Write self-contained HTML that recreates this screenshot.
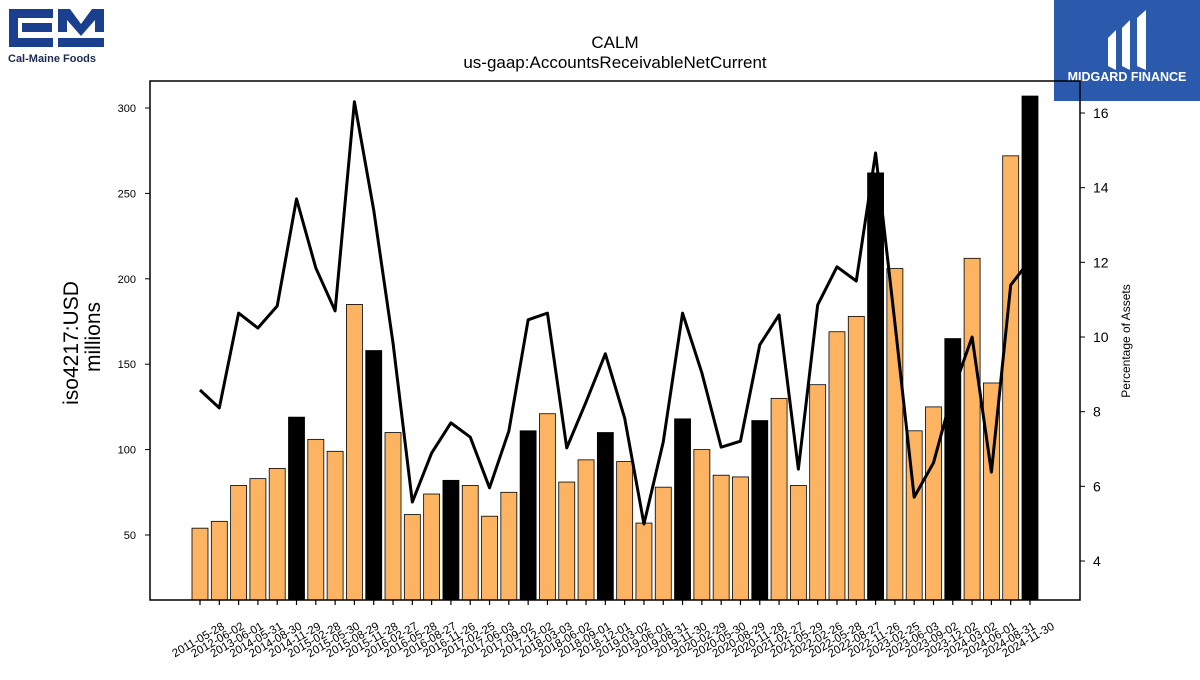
<!DOCTYPE html>
<html><head><meta charset="utf-8"><style>
body{margin:0;width:1200px;height:675px;background:#fff;overflow:hidden;font-family:"Liberation Sans","DejaVu Sans",sans-serif;}
</style></head><body>
<svg id="c" width="1200" height="675" xmlns="http://www.w3.org/2000/svg">
<g>
<rect x="9" y="9" width="44" height="9" fill="#1b3f8f"/><rect x="9" y="9" width="9" height="38" fill="#1b3f8f"/><rect x="9" y="38" width="44" height="9" fill="#1b3f8f"/>
<rect x="22" y="23" width="30" height="9" fill="#1b3f8f"/>
<path d="M58 9 H70 L81 24 L92 9 H104 V32 H95 V20 L81 36 L67 20 V32 H58 Z" fill="#1b3f8f"/>
<rect x="58" y="38" width="46" height="9" fill="#1b3f8f"/>
<text x="8" y="62" font-size="11" font-weight="bold" fill="#1b2a50">Cal-Maine Foods</text>
</g>
<g>
<rect x="1054" y="0" width="146" height="101" fill="#2b5aad"/>
<path d="M1108 38 L1116 30 V70 L1108 66 Z M1122 28 L1130 20 V70 L1122 66 Z M1137 18 L1146 10 V70 L1137 66 Z" fill="#fff"/>
<text x="1127" y="81" font-size="12.5" font-weight="bold" fill="#fff" text-anchor="middle">MIDGARD FINANCE</text>
</g>
<text x="615" y="48" font-size="17" text-anchor="middle">CALM</text>
<text x="615" y="68" font-size="17" text-anchor="middle">us-gaap:AccountsReceivableNetCurrent</text>
<text transform="translate(78,343) rotate(-90)" font-size="21" text-anchor="middle">iso4217:USD</text>
<text transform="translate(100,337) rotate(-90)" font-size="21" text-anchor="middle">millions</text>
<text transform="translate(1130,341) rotate(-90)" font-size="12" text-anchor="middle">Percentage of Assets</text>
<g id="bars"></g><g id="xt"></g><g id="yt"></g><g id="y2t"></g>
<path id="line" fill="none" stroke="#000" stroke-width="3" stroke-linejoin="round"/>
<rect x="150" y="81" width="930" height="519" fill="none" stroke="#000" stroke-width="1.5"/>
</svg>
<script>
const dates=["2011-05-28","2012-06-02","2013-06-01","2014-05-31","2014-08-30","2014-11-29","2015-02-28","2015-05-30","2015-08-29","2015-11-28","2016-02-27","2016-05-28","2016-08-27","2016-11-26","2017-02-25","2017-06-03","2017-09-02","2017-12-02","2018-03-03","2018-06-02","2018-09-01","2018-12-01","2019-03-02","2019-06-01","2019-08-31","2019-11-30","2020-02-29","2020-05-30","2020-08-29","2020-11-28","2021-02-27","2021-05-29","2022-02-26","2022-05-28","2022-08-27","2022-11-26","2023-02-25","2023-06-03","2023-09-02","2023-12-02","2024-03-02","2024-06-01","2024-08-31","2024-11-30"];
const values=[54,58,79,83,89,119,106,99,185,158,110,62,74,82,79,61,75,111,121,81,94,110,93,57,78,118,100,85,84,117,130,79,138,169,178,262,206,111,125,165,212,139,272,307];
const annual=[0,0,0,0,0,1,0,0,0,1,0,0,0,1,0,0,0,1,0,0,0,1,0,0,0,1,0,0,0,1,0,0,0,0,0,1,0,0,0,1,0,0,0,1];
const pct=[8.58,8.1,10.64,10.24,10.83,13.7,11.85,10.7,16.3,13.4,9.84,5.58,6.89,7.7,7.32,5.96,7.48,10.46,10.64,7.03,8.26,9.55,7.83,4.99,7.19,10.64,9.04,7.05,7.21,9.79,10.59,6.46,10.86,11.88,11.5,14.93,10.38,5.71,6.63,8.53,10.0,6.38,11.39,12.06];
const yTicks=[50,100,150,200,250,300];
const y2Ticks=[4,6,8,10,12,14,16];
const NS="http://www.w3.org/2000/svg";
const xs=i=>200+i*(1030-200)/(dates.length-1);
const ys=v=>535-(v-50)*(535-108)/250;
const y2s=v=>561-(v-4)*(561-113)/12;
function mk(t,a,p){const e=document.createElementNS(NS,t);for(const k in a)e.setAttribute(k,a[k]);p.appendChild(e);return e;}
const bars=document.getElementById('bars'),xt=document.getElementById('xt'),yt=document.getElementById('yt'),y2t=document.getElementById('y2t');
values.forEach((v,i)=>{
const r=mk('rect',{x:xs(i)-8,y:ys(v),width:16,height:600-ys(v),fill:annual[i]?'#000':'#fdb462',stroke:'#000','stroke-width':0.8},bars);


const tk=mk('line',{x1:xs(i),x2:xs(i),y1:600,y2:605,stroke:'#000','stroke-width':1.2},xt);


const t=mk('text',{transform:`translate(${xs(i)},${643}) rotate(-30)`,'font-size':11.5,'text-anchor':'middle'},xt);
t.textContent=dates[i];


});
yTicks.forEach(v=>{
const l=mk('line',{x1:145,x2:150,y1:ys(v),y2:ys(v),stroke:'#000'},yt);


const t=mk('text',{x:136,y:ys(v)+4,'font-size':11,'text-anchor':'end'},yt);
t.textContent=v;


});
y2Ticks.forEach(v=>{
const l=mk('line',{x1:1080,x2:1085,y1:y2s(v),y2:y2s(v),stroke:'#000'},y2t);


const t=mk('text',{x:1093,y:y2s(v)+5,'font-size':14},y2t);
t.textContent=v;


});
document.getElementById('line').setAttribute('d',pct.map((p,i)=>(i?'L':'M')+xs(i)+' '+y2s(p)).join(' '));
</script>
</body></html>
